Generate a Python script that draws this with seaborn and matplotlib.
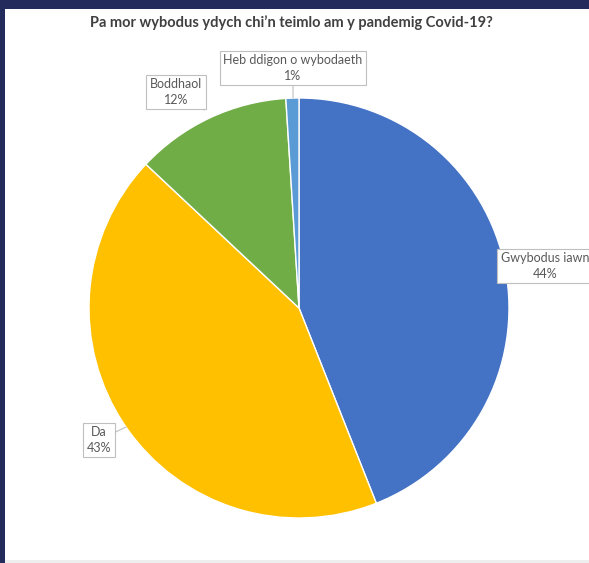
import matplotlib
matplotlib.use("Agg")
import matplotlib.pyplot as plt
from matplotlib.patches import Rectangle
import seaborn as sns

# Survey answers, drawn clockwise from 12 o'clock
categories = ["Gwybodus iawn", "Da", "Boddhaol", "Heb ddigon o wybodaeth"]
shares = [44, 43, 12, 1]
colors = ["#4472C4", "#FFC000", "#70AD47", "#5B9BD5"]
title = "Pa mor wybodus ydych chi\u2019n teimlo am y pandemig Covid-19?"

sns.set_theme(style="white")
plt.rcParams["font.family"] = ["Lato", "DejaVu Sans"]

W, H = 589, 563
fig = plt.figure(figsize=(W / 100, H / 100), dpi=100, facecolor="#232b5c")

# White slide panel inside the navy frame
fig.patches.append(Rectangle((5 / W, 3 / H), (W - 5) / W, (H - 12) / H,
                             transform=fig.transFigure, facecolor="white",
                             edgecolor="none", zorder=-2))
fig.patches.append(Rectangle((5 / W, 0), (W - 5) / W, 3 / H,
                             transform=fig.transFigure, facecolor="#eeeeee",
                             edgecolor="none", zorder=-2))

ax = fig.add_axes([0, 0, 1, 1])
ax.set_zorder(1)
ax.patch.set_alpha(0)

cx, cy, r = 299, H - 308, 210
ax.pie(shares, colors=colors, startangle=90, counterclock=False,
       center=(cx, cy), radius=r,
       wedgeprops=dict(edgecolor="white", linewidth=1.0))
ax.set_xlim(0, W)
ax.set_ylim(0, H)
ax.set_aspect("equal")
ax.set_axis_off()

ax.text(291, H - 23, title, ha="center", va="center", fontsize=10.5,
        fontweight="bold", color="#404040")

# Data callouts: (text position, pointer target) in pixel space
callouts = [
    ((545, H - 266), None),
    ((99, H - 440), (126, H - 427)),
    ((176, H - 92), (204, H - 110)),
    ((293, H - 68), (293, H - 98)),
]
box = dict(boxstyle="square,pad=0.3", facecolor="white",
           edgecolor="#bfbfbf", linewidth=0.8)
for name, val, (pos, tip) in zip(categories, shares, callouts):
    label = f"{name}\n{val}%"
    if tip is None:
        ax.text(*pos, label, ha="center", va="center", fontsize=9,
                color="#595959", bbox=box, linespacing=1.3)
    else:
        ax.annotate(label, xy=tip, xytext=pos, ha="center", va="center",
                    fontsize=9, color="#595959", bbox=box, linespacing=1.3,
                    arrowprops=dict(arrowstyle="-", color="#bfbfbf",
                                    linewidth=0.8, shrinkA=0, shrinkB=0))

fig.savefig("out.png", dpi=100, facecolor=fig.get_facecolor())
